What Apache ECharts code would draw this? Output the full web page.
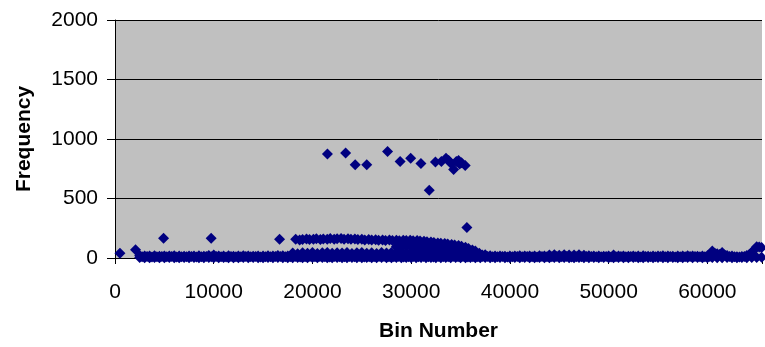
<!DOCTYPE html>
<html>
<head>
<meta charset="utf-8">
<script src="https://cdn.jsdelivr.net/npm/echarts@6/dist/echarts.min.js"></script>
<style>
  html, body { margin: 0; padding: 0; background: #fff; }
  #main { width: 765px; height: 347px; }
</style>
</head>
<body>
<div id="main"></div>
<script>
// high isolated bins (cluster around 800-900)
var peakBins = [21520, 23360, 24330, 25500, 27610, 28880, 29950, 30990, 31830, 32460,
  33060, 33530, 33800, 34040, 34300, 34570, 34800, 34910, 35100, 35470]
var peakFreq = [875, 883, 783, 783, 894, 811, 839, 794, 569, 806,
  811, 839, 820, 794, 744, 811, 820, 789, 800, 778]

// a few single points standing out of the floor
var loneBins = [500, 2080, 4920, 9740, 16670, 35640]
var loneFreq = [40, 70, 167, 167, 158, 256]

// the arc of bins around 150
var arcBins = [18300, 18700, 19000, 19400, 19700, 20100, 20400, 20800, 21100, 21500,
  21800, 22200, 22500, 22900, 23200, 23600, 23900, 24300, 24600, 25000,
  25300, 25700, 26000, 26400, 26700, 27100, 27400, 27800, 28100, 28500,
  28800, 29200, 29500, 29900, 30200, 30600, 30900, 31300, 31600, 32000,
  32300, 32700, 33000, 33400, 33700, 34100, 34400, 34800, 35100, 35500,
  35800, 36200, 36500, 36900, 37200]
var arcFreq = [158, 152, 156, 160, 155, 158, 162, 156, 160, 158,
  163, 157, 161, 164, 158, 162, 157, 160, 155, 158,
  152, 156, 151, 154, 149, 152, 148, 151, 147, 150,
  146, 150, 147, 149, 146, 147, 142, 140, 136, 134,
  130, 127, 124, 121, 117, 113, 110, 104, 98, 90,
  80, 68, 58, 40, 25]

// second row, roughly 40-50
var midBins = [18000, 18500, 19000, 19500, 20000, 20500, 21000, 21500, 22000, 22500,
  23000, 23500, 24000, 24500, 25000, 25500, 26000, 26500, 27000, 27500,
  28000, 28500, 29000, 29500, 30000, 30500, 31000, 31500, 32000, 32500,
  33000, 33500, 34000, 34500, 35000, 35500, 36000]
var midFreq = [42, 36, 45, 40, 47, 38, 44, 46, 39, 45,
  41, 47, 37, 44, 46, 40, 45, 38, 47, 43,
  46, 41, 48, 44, 50, 47, 48, 44, 50, 46,
  49, 45, 50, 47, 44, 40, 34]

// the filled part between the rows
var fillBins = [28500, 29000, 29500, 30000, 30500, 31000, 31500, 32000, 32500, 33000,
  33500, 34000, 34500, 35000, 35500, 36000]
var fillFreq = [95, 88, 102, 92, 98, 90, 96, 88, 94, 86,
  90, 84, 80, 72, 62, 48]

// the floor: nearly every bin has a small count
var floorBins = [2500, 3000, 3500, 4000, 4500, 5000, 5500, 6000, 6500, 7000,
  7500, 8000, 8500, 9000, 9500, 10000, 10500, 11000, 11500, 12000,
  12500, 13000, 13500, 14000, 14500, 15000, 15500, 16000, 16500, 17000,
  17500, 18000, 18500, 19000, 19500, 20000, 20500, 21000, 21500, 22000,
  22500, 23000, 23500, 24000, 24500, 25000, 25500, 26000, 26500, 27000,
  27500, 28000, 28500, 29000, 29500, 30000, 30500, 31000, 31500, 32000,
  32500, 33000, 33500, 34000, 34500, 35000, 35500, 36000, 36500, 37000,
  37500, 38000, 38500, 39000, 39500, 40000, 40500, 41000, 41500, 42000,
  42500, 43000, 43500, 44000, 44500, 45000, 45500, 46000, 46500, 47000,
  47500, 48000, 48500, 49000, 49500, 50000, 50500, 51000, 51500, 52000,
  52500, 53000, 53500, 54000, 54500, 55000, 55500, 56000, 56500, 57000,
  57500, 58000, 58500, 59000, 59500, 60000, 60500, 61000, 61500, 62000,
  62500, 63000, 63500, 64000, 64500, 65000, 65500]
var floorLow = [4, 2, 3, 5, 2, 3, 4, 2, 3, 5,
  2, 4, 3, 2, 5, 3, 2, 4, 3, 2,
  3, 5, 2, 4, 3, 2, 4, 3, 5, 2,
  3, 2, 4, 3, 2, 5, 3, 4, 2, 3,
  4, 2, 3, 5, 2, 3, 4, 2, 3, 4,
  2, 3, 5, 2, 4, 3, 2, 4, 3, 5,
  3, 2, 4, 3, 5, 2, 3, 4, 2, 3,
  5, 3, 2, 4, 3, 2, 5, 3, 4, 2,
  3, 4, 2, 3, 5, 2, 4, 3, 2, 4,
  3, 2, 5, 3, 4, 2, 3, 5, 2, 3,
  4, 2, 3, 5, 2, 4, 3, 2, 4, 3,
  2, 5, 3, 4, 2, 3, 4, 2, 3, 5,
  3, 2, 4, 3, 5, 4, 6]
var floorHigh = [20, 17, 16, 18, 15, 17, 16, 18, 17, 15,
  17, 16, 18, 15, 22, 26, 17, 16, 18, 15,
  16, 18, 17, 15, 17, 16, 18, 17, 22, 18,
  16, 18, 17, 19, 16, 18, 17, 19, 16, 18,
  17, 19, 16, 18, 17, 19, 16, 18, 17, 19,
  18, 17, 19, 18, 20, 19, 18, 20, 19, 18,
  20, 19, 18, 20, 19, 18, 19, 18, 20, 22,
  28, 18, 16, 17, 15, 17, 16, 18, 16, 17,
  16, 18, 17, 26, 28, 24, 27, 26, 25, 27,
  24, 18, 16, 17, 15, 17, 26, 16, 17, 15,
  17, 16, 18, 15, 17, 16, 18, 17, 15, 17,
  16, 18, 17, 15, 17, 18, 58, 36, 46, 22,
  16, 10, 13, 20, 48, 95, 88]

// in-between floor bins, middle of the band
var floorBins2 = [2750, 3250, 3750, 4250, 4750, 5250, 5750, 6250, 6750, 7250,
  7750, 8250, 8750, 9250, 9750, 10250, 10750, 11250, 11750, 12250,
  12750, 13250, 13750, 14250, 14750, 15250, 15750, 16250, 16750, 17250,
  17750, 18250, 18750, 19250, 19750, 20250, 20750, 21250, 21750, 22250,
  22750, 23250, 23750, 24250, 24750, 25250, 25750, 26250, 26750, 27250,
  27750, 28250, 28750, 29250, 29750, 30250, 30750, 31250, 31750, 32250,
  32750, 33250, 33750, 34250, 34750, 35250, 35750, 36250, 36750, 37250,
  37750, 38250, 38750, 39250, 39750, 40250, 40750, 41250, 41750, 42250,
  42750, 43250, 43750, 44250, 44750, 45250, 45750, 46250, 46750, 47250,
  47750, 48250, 48750, 49250, 49750, 50250, 50750, 51250, 51750, 52250,
  52750, 53250, 53750, 54250, 54750, 55250, 55750, 56250, 56750, 57250,
  57750, 58250, 58750, 59250, 59750, 60250, 60750, 61250, 61750, 62250,
  62750, 63250, 63750, 64250, 64750, 65250]
var floorMid = [10, 12, 9, 11, 13, 10, 12, 9, 11, 10,
  12, 9, 11, 13, 10, 12, 11, 9, 12, 10,
  11, 13, 10, 12, 9, 11, 10, 12, 13, 11,
  10, 12, 9, 11, 13, 10, 12, 11, 9, 12,
  10, 11, 13, 10, 12, 9, 11, 10, 12, 13,
  11, 10, 12, 9, 11, 13, 10, 12, 11, 9,
  12, 10, 11, 13, 10, 12, 9, 11, 10, 12,
  13, 11, 10, 12, 9, 11, 13, 10, 12, 11,
  9, 12, 10, 11, 13, 10, 12, 9, 11, 10,
  12, 13, 11, 10, 12, 9, 11, 13, 10, 12,
  11, 9, 12, 10, 11, 13, 10, 12, 9, 11,
  10, 12, 13, 11, 10, 12, 40, 30, 25, 12,
  10, 8, 12, 30, 70, 92]

var xTicks = [0, 10000, 20000, 30000, 40000, 50000, 60000]

function pairs (bins, freq) {
  var out = []
  for (var i = 0; i < bins.length; i++) {
    out.push([bins[i], freq[i]])
  }
  return out
}

var allPoints = []
  .concat(pairs(floorBins, floorLow))
  .concat(pairs(floorBins, floorHigh))
  .concat(pairs(floorBins2, floorMid))
  .concat(pairs(midBins, midFreq))
  .concat(pairs(fillBins, fillFreq))
  .concat(pairs(arcBins, arcFreq))
  .concat(pairs(loneBins, loneFreq))
  .concat(pairs(peakBins, peakFreq))

var labelFont = {
  color: '#000',
  fontFamily: 'Liberation Sans, Arial, sans-serif',
  fontSize: 21
}

var option = {
  animation: false,
  backgroundColor: '#fff',
  grid: {
    show: true,
    left: 115,
    top: 20,
    width: 653,
    height: 240,
    backgroundColor: '#c0c0c0',
    borderWidth: 0
  },
  xAxis: {
    type: 'value',
    min: 0,
    max: 65536,
    interval: 10000,
    name: 'Bin Number',
    nameLocation: 'middle',
    nameGap: 63,
    nameTextStyle: Object.assign({}, labelFont, { fontWeight: 'bold' }),
    axisLine: { show: true, onZero: false, lineStyle: { color: '#000', width: 1 } },
    axisTick: { show: true, length: 6, lineStyle: { color: '#000' } },
    splitLine: { show: false },
    axisLabel: Object.assign({}, labelFont, {
      margin: 24,
      formatter: function (v) { return xTicks.indexOf(v) >= 0 ? String(v) : '' }
    })
  },
  yAxis: {
    type: 'value',
    min: 0,
    max: 2000,
    interval: 500,
    name: 'Frequency',
    nameLocation: 'middle',
    nameGap: 80,
    nameTextStyle: Object.assign({}, labelFont, { fontWeight: 'bold' }),
    axisLine: { show: true, lineStyle: { color: '#000', width: 1 } },
    axisTick: { show: true, length: 8, lineStyle: { color: '#000' } },
    splitLine: { show: true, lineStyle: { color: '#000', width: 1 } },
    axisLabel: Object.assign({}, labelFont, {
      margin: 17,
      formatter: function (v) { return String(v) }
    })
  },
  series: [
    {
      type: 'scatter',
      symbol: 'diamond',
      symbolSize: 11,
      itemStyle: { color: '#000080', opacity: 1 },
      data: allPoints
    }
  ]
}

var myChart = echarts.init(document.getElementById('main'), null, { renderer: 'canvas' })
myChart.setOption(option)
</script>
</body>
</html>
